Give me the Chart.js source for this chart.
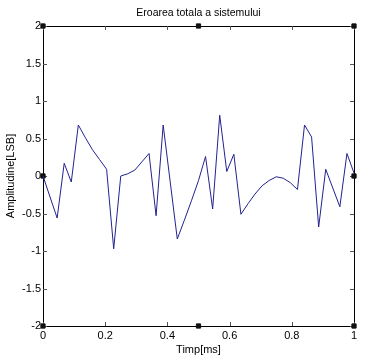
<!DOCTYPE html>
<html>
<head>
<meta charset="utf-8">
<script src="https://cdn.jsdelivr.net/npm/chart.js@4/dist/chart.umd.min.js"></script>
<style>
  body { margin: 0; background: #fff; }
  #wrap { width: 376px; height: 359px; }
</style>
</head>
<body>
<div id="wrap"><canvas id="chart"></canvas></div>
<script>
// time axis: 45 samples from 0 to 1 ms
const timeMs = [0, 0.0227, 0.0455, 0.0682, 0.0909, 0.1136, 0.1364, 0.1591, 0.1818, 0.2045,
  0.2273, 0.25, 0.2727, 0.2955, 0.3182, 0.3409, 0.3636, 0.3864, 0.4091, 0.4318,
  0.4545, 0.4773, 0.5, 0.5227, 0.5455, 0.5682, 0.5909, 0.6136, 0.6364, 0.6591,
  0.6818, 0.7045, 0.7273, 0.75, 0.7727, 0.7955, 0.8182, 0.8409, 0.8636, 0.8864,
  0.9091, 0.9318, 0.9545, 0.9773, 1];
const errorLsb = [0, -0.28, -0.56, 0.17, -0.08, 0.68, 0.51, 0.35, 0.22, 0.09,
  -0.97, 0.0, 0.03, 0.08, 0.19, 0.30, -0.53, 0.68, -0.08, -0.84,
  -0.59, -0.33, -0.06, 0.26, -0.44, 0.81, 0.06, 0.29, -0.51, -0.37,
  -0.24, -0.13, -0.06, -0.01, -0.03, -0.09, -0.18, 0.68, 0.52, -0.68,
  0.09, -0.16, -0.41, 0.30, 0.04];
// square markers seen on the axes box
const markerX = [0, 0.5, 1, 0, 1, 0, 0.5, 1];
const markerY = [2, 2, 2, 0, 0, -2, -2, -2];

const xTicks = [0, 0.2, 0.4, 0.6, 0.8, 1];
const yTicks = [-2, -1.5, -1, -0.5, 0, 0.5, 1, 1.5, 2];

const lineData = timeMs.map((t, i) => ({ x: t, y: errorLsb[i] }));
const markerData = markerX.map((x, i) => ({ x: x, y: markerY[i] }));

// MATLAB-like box with inward ticks
const boxPlugin = {
  id: "box",
  beforeDatasetsDraw(chart) {
    const { ctx, chartArea: a, scales } = chart;
    ctx.save();
    ctx.strokeStyle = "#000";
    ctx.lineWidth = 1;
    ctx.strokeRect(Math.round(a.left) + 0.5, Math.round(a.top) + 0.5,
      Math.round(a.right - a.left), Math.round(a.bottom - a.top));
    ctx.strokeStyle = "#555";
    ctx.beginPath();
    xTicks.forEach(v => {
      const px = Math.round(scales.x.getPixelForValue(v)) + 0.5;
      ctx.moveTo(px, a.top); ctx.lineTo(px, a.top + 4);
      ctx.moveTo(px, a.bottom); ctx.lineTo(px, a.bottom - 4);
    });
    yTicks.forEach(v => {
      const py = Math.round(scales.y.getPixelForValue(v)) + 0.5;
      ctx.moveTo(a.left, py); ctx.lineTo(a.left + 4, py);
      ctx.moveTo(a.right, py); ctx.lineTo(a.right - 4, py);
    });
    ctx.stroke();
    ctx.restore();
  }
};

const font = { family: "'Liberation Sans', Arial, sans-serif", size: 11, weight: "normal" };

new Chart(document.getElementById("chart"), {
  type: "scatter",
  data: {
    datasets: [
      {
        data: lineData,
        showLine: true,
        borderColor: "#22228f",
        borderWidth: 1,
        pointRadius: 0,
        tension: 0
      },
      {
        data: markerData,
        showLine: false,
        pointStyle: "rect",
        pointRadius: 3,
        backgroundColor: "#111",
        borderColor: "#111",
        borderWidth: 1,
        clip: false
      }
    ]
  },
  options: {
    responsive: true,
    maintainAspectRatio: false,
    animation: false,
    layout: { padding: { left: 0, right: 22, top: 0, bottom: 0 } },
    plugins: {
      legend: { display: false },
      tooltip: { enabled: false },
      title: { display: false }
    },
    scales: {
      x: {
        type: "linear",
        min: 0,
        max: 1,
        afterBuildTicks: s => { s.ticks = xTicks.map(v => ({ value: v })); },
        afterFit: s => { s.height = 33; },
        grid: { display: true, drawOnChartArea: false, drawTicks: false },
        border: { display: false },
        ticks: { color: "#000", font: font, padding: 3, maxRotation: 0, callback: v => String(v) },
        title: { display: true, text: "Timp[ms]", color: "#000", font: font, padding: { top: 0, bottom: 2 } }
      },
      // top axis only carries the chart title, centred over the plot
      xTop: {
        type: "linear",
        position: "top",
        min: 0,
        max: 1,
        afterFit: s => { s.height = 26; },
        grid: { display: false },
        border: { display: false },
        ticks: { display: false },
        title: {
          display: true,
          text: "Eroarea totala a sistemului",
          color: "#000",
          font: { family: font.family, size: 10.5, weight: "normal" },
          padding: { top: 7, bottom: 0 }
        }
      },
      y: {
        type: "linear",
        min: -2,
        max: 2,
        afterBuildTicks: s => { s.ticks = yTicks.map(v => ({ value: v })); },
        afterFit: s => { s.width = 43; },
        grid: { display: true, drawOnChartArea: false, drawTicks: false },
        border: { display: false },
        ticks: { color: "#000", font: font, padding: 2, callback: v => String(v) },
        title: { display: true, text: "Amplitudine[LSB]", color: "#000", font: font, padding: { top: 4, bottom: 0 } }
      }
    }
  },
  plugins: [boxPlugin]
});
</script>
</body>
</html>
